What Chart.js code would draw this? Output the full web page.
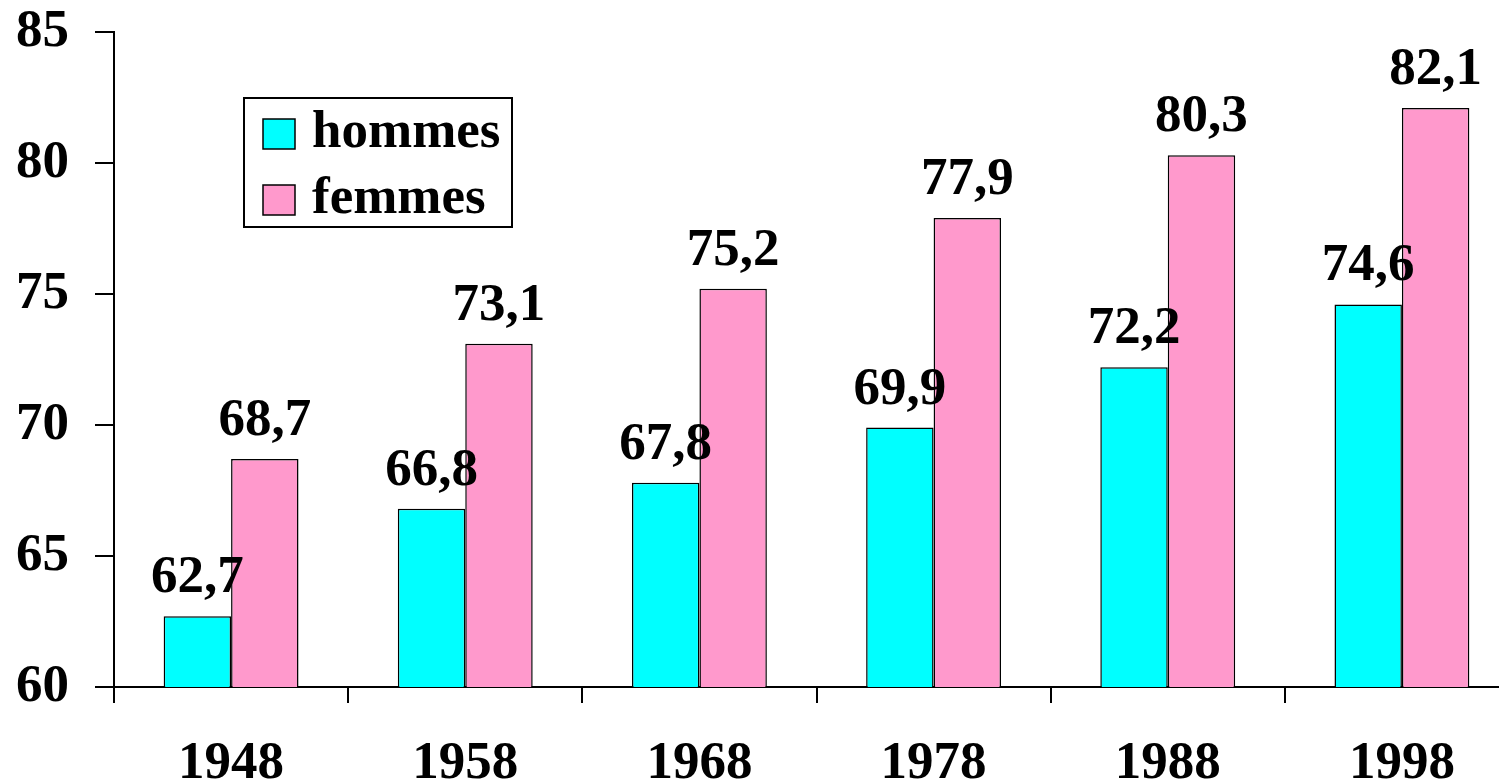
<!DOCTYPE html>
<html>
<head>
<meta charset="utf-8">
<script src="https://cdn.jsdelivr.net/npm/chart.js@4/dist/chart.umd.min.js"></script>
<style>
  html, body { margin: 0; padding: 0; background: #fff; overflow: hidden; }
  #wrap { width: 1519px; height: 783px; }
</style>
</head>
<body>
<div id="wrap"><canvas id="bar-chart" width="1519" height="783"></canvas></div>
<script>
// Données : espérance de vie à la naissance
const annees = ["1948", "1958", "1968", "1978", "1988", "1998"];
const hommes = [62.7, 66.8, 67.8, 69.9, 72.2, 74.6];
const femmes = [68.7, 73.1, 75.2, 77.9, 80.3, 82.1];
const ticksY = [60, 65, 70, 75, 80, 85];

const police = '"Liberation Serif", "Times New Roman", serif';
const taille = 53;

// Etiquettes de valeurs au-dessus des barres
const valeursPlugin = {
  id: "valeurs",
  afterDatasetsDraw(chart) {
    const ctx = chart.ctx;
    ctx.save();
    ctx.font = "bold " + taille + "px " + police;
    ctx.fillStyle = "#000";
    ctx.textAlign = "center";
    ctx.textBaseline = "alphabetic";
    chart.data.datasets.forEach((ds, i) => {
      chart.getDatasetMeta(i).data.forEach((bar, j) => {
        const txt = ds.data[j].toFixed(1).replace(".", ",");
        ctx.fillText(txt, bar.x, bar.y - 24);
      });
    });
    ctx.restore();
  },
};

// Légende encadrée dans la zone du graphique
const legendePlugin = {
  id: "legende",
  afterDraw(chart) {
    const ctx = chart.ctx;
    ctx.save();
    ctx.fillStyle = "#fff";
    ctx.fillRect(244, 98, 268, 129);
    ctx.strokeStyle = "#000";
    ctx.lineWidth = 2;
    ctx.strokeRect(244, 98, 268, 129);
    ctx.font = "bold " + taille + "px " + police;
    ctx.textBaseline = "middle";
    ctx.textAlign = "left";
    chart.data.datasets.forEach((ds, i) => {
      const y = 119 + i * 66;
      ctx.fillStyle = ds.backgroundColor;
      ctx.fillRect(263, y, 32, 30);
      ctx.lineWidth = 1.5;
      ctx.strokeRect(263, y, 32, 30);
      ctx.fillStyle = "#000";
      ctx.fillText(ds.label, 312, y + 14);
    });
    ctx.restore();
  },
};

const ctx = document.getElementById("bar-chart").getContext("2d");
new Chart(ctx, {
  type: "bar",
  data: {
    labels: annees,
    datasets: [
      {
        label: "hommes",
        data: hommes,
        backgroundColor: "#00FFFF",
        borderColor: "#000",
        borderWidth: 1.5,
      },
      {
        label: "femmes",
        data: femmes,
        backgroundColor: "#FF99CC",
        borderColor: "#000",
        borderWidth: 1.5,
      },
    ],
  },
  options: {
    responsive: false,
    devicePixelRatio: 1,
    animation: false,
    layout: { padding: { top: 32, left: 0, right: 0, bottom: 0 } },
    datasets: {
      bar: { categoryPercentage: 0.576, barPercentage: 1 },
    },
    plugins: {
      legend: { display: false },
      tooltip: { enabled: false },
      title: { display: false },
    },
    scales: {
      x: {
        grid: {
          offset: true,
          drawOnChartArea: false,
          drawTicks: true,
          tickLength: 16,
          color: "#000",
          lineWidth: 2,
        },
        border: { display: true, color: "#000", width: 2 },
        ticks: {
          color: "#000",
          font: { family: police, size: taille, weight: "bold" },
          padding: 30,
          maxRotation: 0,
          autoSkip: false,
        },
        afterFit(scale) {
          scale.height = 96;
          scale.paddingLeft = 0;
          scale.paddingRight = 0;
        },
      },
      y: {
        min: 60,
        max: 85,
        afterBuildTicks(scale) {
          scale.ticks = ticksY.map((v) => ({ value: v }));
        },
        grid: {
          drawOnChartArea: false,
          drawTicks: true,
          tickLength: 19,
          color: "#000",
          lineWidth: 2,
        },
        border: { display: true, color: "#000", width: 2 },
        ticks: {
          color: "#000",
          font: { family: police, size: taille, weight: "bold" },
          padding: 26,
        },
        afterFit(scale) {
          scale.width = 114;
          scale.paddingTop = 0;
          scale.paddingBottom = 0;
        },
      },
    },
  },
  plugins: [valeursPlugin, legendePlugin],
});
</script>
</body>
</html>
